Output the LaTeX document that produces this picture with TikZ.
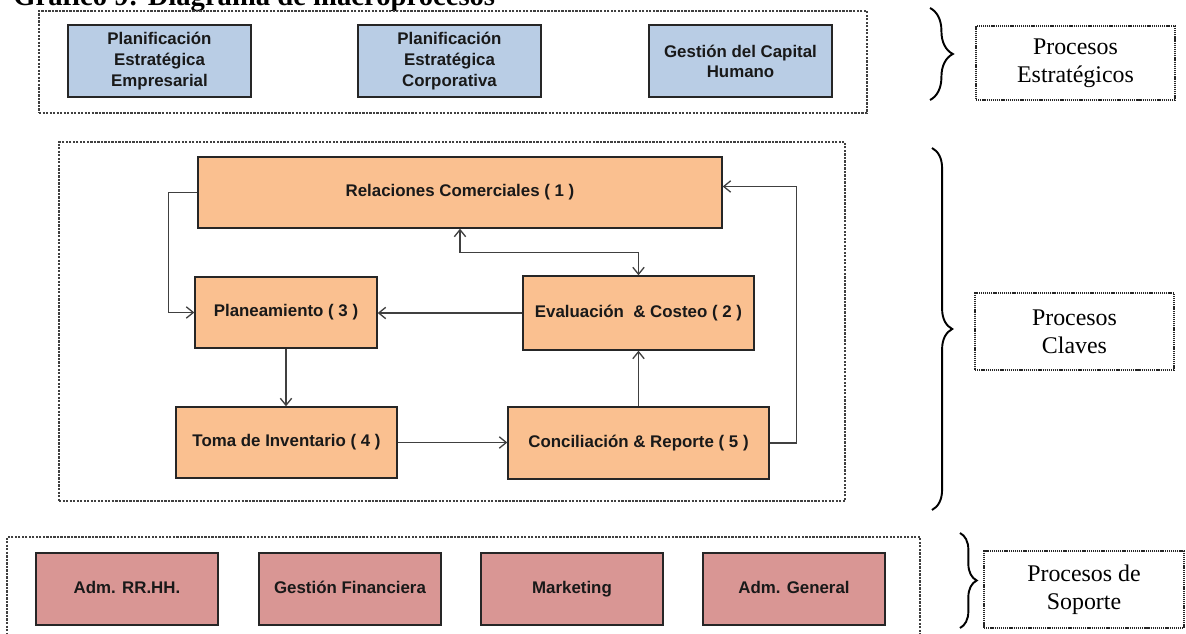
\documentclass[tikz,border=0pt]{standalone}
\usepackage{fontspec}
\setmainfont{Liberation Serif}
\setsansfont{Liberation Sans}
\usetikzlibrary{arrows.meta,decorations.pathreplacing,fit}
\definecolor{bluefill}{HTML}{B9CDE5}
\definecolor{orangefill}{HTML}{FAC090}
\definecolor{redfill}{HTML}{D99694}
\definecolor{linegray}{HTML}{404040}
\definecolor{boxline}{HTML}{262626}
\begin{document}
\begin{tikzpicture}[x=0.02cm,y=-0.02cm,
  procbox/.style={draw=boxline, line width=0.8pt, inner sep=0pt, align=center,
    font=\sffamily\bfseries\fontsize{9.6}{11.9}\selectfont, text=black!90},
  onerow/.style={text height=7pt, text depth=2pt},
  bluebox/.style={procbox, fill=bluefill, minimum width=3.66cm, minimum height=1.44cm},
  orangebox/.style={procbox, onerow, fill=orangefill},
  redbox/.style={procbox, onerow, fill=redfill, minimum width=3.64cm, minimum height=1.44cm},
  groupbox/.style={draw=black!75, line width=0.6pt, dash pattern=on 1.3pt off 0.7pt, inner sep=0pt},
  labelbox/.style={draw=black!85, line width=0.9pt, dash pattern=on 0.7pt off 0.5pt, inner sep=0pt,
    align=center, font=\fontsize{13.6}{15.9}\selectfont},
  conn/.style={draw=linegray, line width=0.75pt, -{Straight Barb[length=4pt,width=6.5pt]}},
  dblconn/.style={draw=linegray, line width=0.75pt, {Straight Barb[length=4pt,width=6.5pt]}-{Straight Barb[length=4pt,width=6.5pt]}},
  bracestyle/.style={draw=black, line width=1.1pt, decorate, decoration={brace, amplitude=#1}},
]
\useasboundingbox (0,0) rectangle (1186,634);

% title (partly cut at the top)
\node[anchor=base west, inner sep=0pt, font=\bfseries\fontsize{16.3}{18}\selectfont] (title) at (13,6) {Gráfico 9: Diagrama de macroprocesos};

% group containers
\node[groupbox, fit={(39,11) (867,113)}] (strat) {};
\node[groupbox, fit={(59,142) (845,501)}] (key) {};
\node[groupbox, fit={(7,537) (920,650)}] (sup) {};

% strategic processes
\node[bluebox] (pee) at (159.5,61) {Planificación\\Estratégica\\Empresarial};
\node[bluebox] (pec) at (449.5,61) {Planificación\\Estratégica\\Corporativa};
\node[bluebox, font=\sffamily\bfseries\fontsize{9.6}{11.3}\selectfont] (gch) at (740.5,61) {Gestión del Capital\\Humano};

% key processes
\node[orangebox, minimum width=10.48cm, minimum height=1.42cm] (rel) at (460,192.5) {Relaciones Comerciales ( 1 )};
\node[orangebox, minimum width=3.64cm, minimum height=1.42cm] (plan) at (286,312.5) {Planeamiento ( 3 )};
\node[orangebox, minimum width=4.62cm, minimum height=1.48cm] (eval) at (638.5,313) {Evaluación \ \& Costeo ( 2 )};
\node[orangebox, minimum width=4.42cm, minimum height=1.42cm] (toma) at (286.5,442.5) {Toma de Inventario ( 4 )};
\node[orangebox, minimum width=5.22cm, minimum height=1.44cm] (conc) at (638.5,443) {Conciliación \& Reporte ( 5 )};

% support processes
\node[redbox] (rrhh) at (127,589) {Adm. RR.HH.};
\node[redbox] (gfin) at (350,589) {Gestión Financiera};
\node[redbox] (mkt) at (572,589) {Marketing};
\node[redbox] (adm) at (794,589) {Adm. General};

% connectors
\draw[conn] (rel.west) -- ++(-29,0) |- (plan.west);
\draw[dblconn] (rel.south) -- ++(0,24) -| (eval.north);
\draw[conn] (eval.west) -- (eval.west -| plan.east);
\draw[conn] (plan.south) -- (plan.south |- toma.north);
\draw[conn] (toma.east) -- (toma.east -| conc.west);
\draw[conn] (conc.north) -- (conc.north |- eval.south);
\draw[conn] (conc.east) -- ++(27,0) |- ([yshift=0.12cm]rel.east);

% braces and labels
\draw[bracestyle=13pt] (930,8) -- (930,100);
\draw[bracestyle=11.5pt] (932,148) -- (932,510);
\draw[bracestyle=9.5pt] (960,533) -- (960,628);
\node[labelbox, minimum width=3.98cm, minimum height=1.48cm] (lab1) at (1075.5,63) {Procesos\\Estratégicos};
\node[labelbox, minimum width=3.98cm, minimum height=1.54cm] (lab2) at (1074.5,331.5) {Procesos\\Claves};
\node[labelbox, minimum width=4cm, minimum height=1.54cm] (lab3) at (1084,589.5) {Procesos de\\Soporte};
\end{tikzpicture}
\end{document}
